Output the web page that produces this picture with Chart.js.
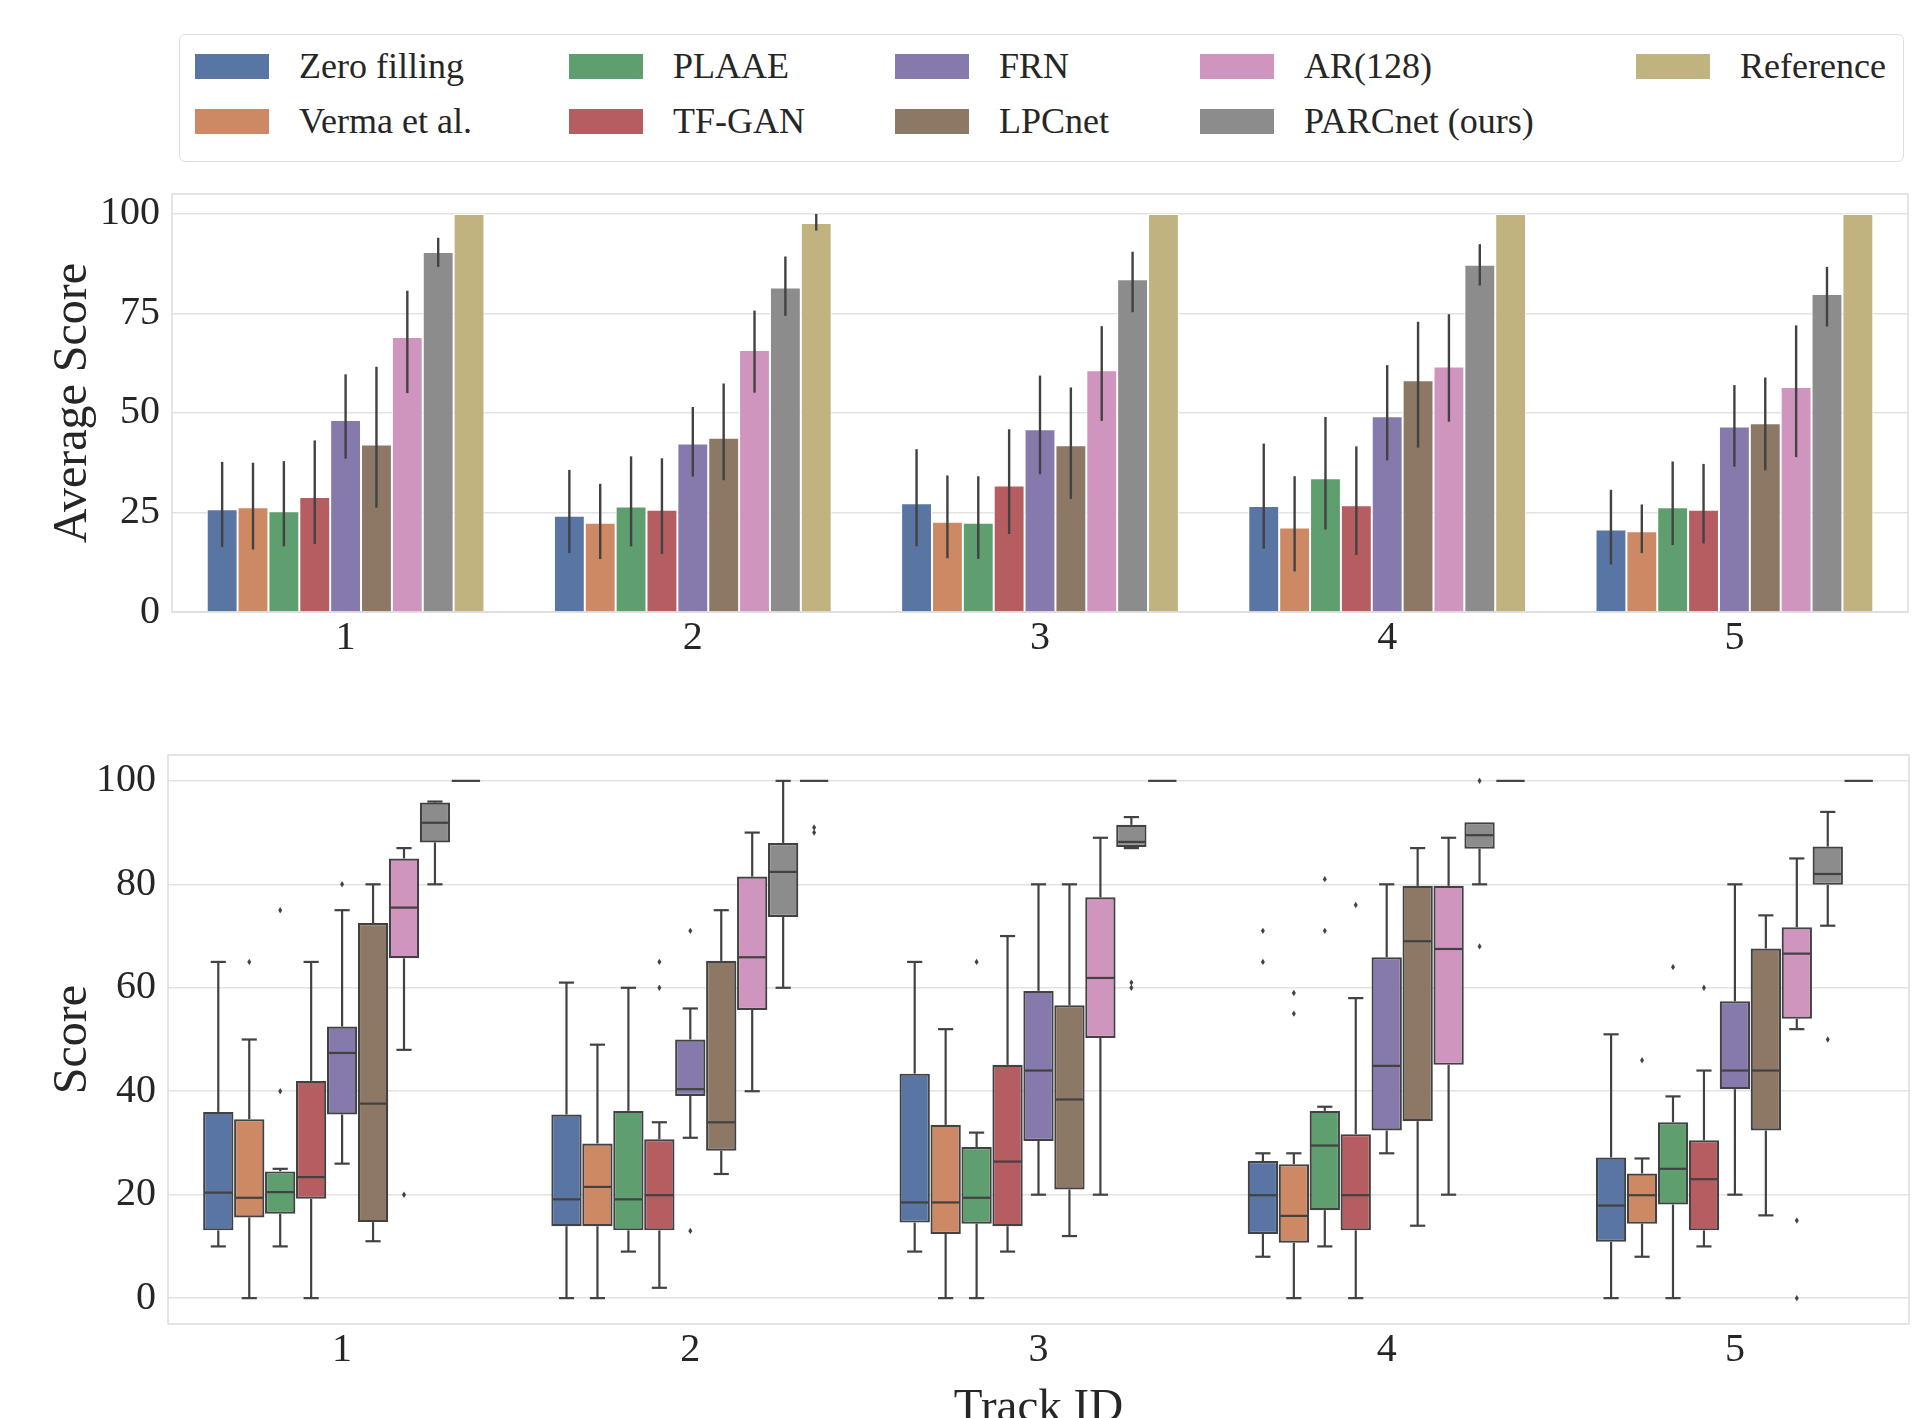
<!DOCTYPE html>
<html>
<head>
<meta charset="utf-8">
<script src="https://cdn.jsdelivr.net/npm/chart.js@4.4.1/dist/chart.umd.min.js"></script>
<style>
    body { margin: 0; background: #fff; overflow: hidden; width: 1914px; height: 1418px; position: relative; font-family: 'Liberation Serif', serif; }
    #legend { position: absolute; left: 179px; top: 34px; width: 1725px; height: 128px; border: 1px solid #dedede; border-radius: 6px; box-sizing: border-box; }
    .item { position: absolute; height: 40px; display: flex; align-items: center; font-size: 36px; color: #262626; white-space: nowrap; }
    .swatch { width: 74px; height: 25px; margin-right: 30px; }
    #top { position: absolute; left: 0; top: 158px; width: 1914px; height: 522px; }
    #bottom { position: absolute; left: 0; top: 719px; width: 1914px; height: 718px; }
</style>
</head>
<body>
<div id="legend"></div>
<div id="top"><canvas id="barChart"></canvas></div>
<div id="bottom"><canvas id="boxChart"></canvas></div>
<script>
const tracks = ['1', '2', '3', '4', '5'];
const models = ['Zero filling', 'Verma et al.', 'PLAAE', 'TF-GAN', 'FRN', 'LPCnet', 'AR(128)', 'PARCnet (ours)', 'Reference'];
const colors = ['#5875a4', '#cc8963', '#5f9e6e', '#b55d60', '#857aab', '#8d7866', '#d095bf', '#8c8c8c', '#c1b37f'];

// top panel: average score per model (rows) and track (columns), with error bar ends
const meanScore = [
    [25.8, 24.2, 27.3, 26.6, 20.7],
    [26.3, 22.4, 22.7, 21.2, 20.3],
    [25.3, 26.5, 22.4, 33.6, 26.3],
    [28.9, 25.7, 31.8, 26.8, 25.7],
    [48.2, 42.3, 45.9, 49.2, 46.6],
    [42.1, 43.8, 41.9, 58.2, 47.4],
    [69.1, 65.8, 60.7, 61.7, 56.5],
    [90.4, 81.5, 83.6, 87.2, 79.9],
    [100, 97.7, 100, 100, 100]
];
const ciLow = [
    [16.3, 14.8, 16.5, 15.9, 11.9],
    [15.7, 13.3, 13.5, 10.2, 14.8],
    [16.5, 16.5, 13.3, 20.7, 16.8],
    [17.1, 14.6, 19.6, 14.3, 17.2],
    [38.5, 34.0, 34.6, 38.1, 36.5],
    [26.2, 33.1, 28.4, 41.3, 35.6],
    [55.0, 55.1, 48.0, 47.8, 38.9],
    [86.7, 74.4, 75.3, 82.0, 71.7],
    [100, 95.8, 100, 100, 100]
];
const ciHigh = [
    [37.7, 35.7, 40.9, 42.3, 30.7],
    [37.5, 32.2, 34.3, 34.1, 27.0],
    [37.9, 39.1, 34.1, 49.0, 37.8],
    [43.1, 38.6, 45.9, 41.6, 37.2],
    [59.7, 51.5, 59.4, 62.0, 57.0],
    [61.6, 57.4, 56.4, 72.9, 58.9],
    [80.7, 75.7, 71.8, 74.8, 72.0],
    [94.0, 89.3, 90.5, 92.4, 86.7],
    [100, 100, 100, 100, 100]
];

// bottom panel: box plot statistics
const q1 = [
    [13.1, 13.9, 14.6, 12.4, 10.9],
    [15.6, 13.9, 12.4, 10.7, 14.4],
    [16.3, 13.1, 14.4, 17.0, 18.1],
    [19.2, 13.1, 13.9, 13.1, 13.1],
    [35.5, 39.1, 30.4, 32.4, 40.4],
    [14.7, 28.5, 21.0, 34.2, 32.4],
    [65.7, 55.7, 50.3, 45.1, 54.0],
    [88.1, 73.7, 87.2, 86.9, 79.9],
    [100, 100, 100, 100, 100]
];
const median = [
    [20.4, 19.1, 18.5, 19.9, 17.9],
    [19.4, 21.5, 18.5, 15.9, 19.9],
    [20.5, 19.1, 19.4, 29.5, 25.0],
    [23.4, 19.9, 26.4, 19.9, 23.0],
    [47.4, 40.4, 44.0, 44.9, 44.0],
    [37.6, 34.0, 38.4, 69.0, 44.0],
    [75.5, 65.9, 61.9, 67.5, 66.6],
    [91.9, 82.4, 88.2, 89.5, 82.0],
    [100, 100, 100, 100, 100]
];
const q3 = [
    [36.0, 35.5, 43.4, 26.5, 27.2],
    [34.6, 29.9, 33.5, 25.9, 24.1],
    [24.5, 36.2, 29.2, 36.2, 34.0],
    [42.0, 30.7, 45.1, 31.7, 30.5],
    [52.5, 50.0, 59.4, 65.9, 57.4],
    [72.5, 65.2, 56.6, 79.7, 67.6],
    [85.0, 81.5, 77.5, 79.7, 71.7],
    [95.8, 88.0, 91.5, 92.0, 87.3],
    [100, 100, 100, 100, 100]
];
const whiskerLow = [
    [10, 0, 9, 8, 0],
    [0, 0, 0, 0, 8],
    [10, 9, 0, 10, 0],
    [0, 2, 9, 0, 10],
    [26, 31, 20, 28, 20],
    [11, 24, 12, 14, 16],
    [48, 40, 20, 20, 52],
    [80, 60, 87, 80, 72],
    [100, 100, 100, 100, 100]
];
const whiskerHigh = [
    [65, 61, 65, 28, 51],
    [50, 49, 52, 28, 27],
    [25, 60, 32, 37, 39],
    [65, 34, 70, 58, 44],
    [75, 56, 80, 80, 80],
    [80, 75, 80, 87, 74],
    [87, 90, 89, 89, 85],
    [96, 100, 93, 92, 94],
    [100, 100, 100, 100, 100]
];
const outliers = [
    [[], [], [], [71, 65], []],
    [[65], [], [], [59, 55], [46]],
    [[75, 40], [], [65], [81, 71], [64]],
    [[], [65, 60], [], [76], [60]],
    [[80], [71, 13], [], [], []],
    [[], [], [], [], []],
    [[20], [], [], [], [15, 0]],
    [[], [], [61, 60], [100, 68], [50]],
    [[], [91, 90], [], [], []]
];

const textColor = '#262626';
const lineGray = '#424242';
const fontFamily = "'Liberation Serif', serif";

// legend (column-major, 2 rows)
const legendCols = [15, 389, 715, 1020, 1456];
const legendRows = [11, 66];
const legendEl = document.getElementById('legend');
models.forEach((name, i) => {
    const item = document.createElement('div');
    item.className = 'item';
    item.style.left = legendCols[Math.floor(i / 2)] + 'px';
    item.style.top = legendRows[i % 2] + 'px';
    item.innerHTML = `<span class="swatch" style="background:${colors[i]}"></span><span>${name}</span>`;
    legendEl.appendChild(item);
});

// light frame round the plot area
const frame = {
    id: 'frame',
    beforeDatasetsDraw(chart) {
        const a = chart.chartArea, ctx = chart.ctx;
        ctx.save();
        ctx.strokeStyle = '#dcdcdc';
        ctx.lineWidth = 1.5;
        ctx.strokeRect(a.left, a.top, a.right - a.left, a.bottom - a.top);
        ctx.restore();
    }
};

function drawLine(ctx, x1, y1, x2, y2) {
    ctx.beginPath();
    ctx.moveTo(x1, y1);
    ctx.lineTo(x2, y2);
    ctx.stroke();
}

const errorBars = {
    id: 'errorBars',
    afterDatasetsDraw(chart) {
        const ctx = chart.ctx, y = chart.scales.y;
        ctx.save();
        ctx.strokeStyle = lineGray;
        ctx.lineWidth = 2.4;
        models.forEach((m, i) => {
            chart.getDatasetMeta(i).data.forEach((bar, j) => {
                drawLine(ctx, bar.x, y.getPixelForValue(ciLow[i][j]), bar.x, y.getPixelForValue(ciHigh[i][j]));
            });
        });
        ctx.restore();
    }
};

const boxParts = {
    id: 'boxParts',
    afterDatasetsDraw(chart) {
        const ctx = chart.ctx, y = chart.scales.y;
        ctx.save();
        ctx.strokeStyle = lineGray;
        ctx.fillStyle = lineGray;
        ctx.lineWidth = 2.2;
        models.forEach((m, i) => {
            chart.getDatasetMeta(i).data.forEach((bar, j) => {
                const x = bar.x, half = bar.width / 2, cap = bar.width / 4;
                const yQ1 = y.getPixelForValue(q1[i][j]);
                const yQ3 = y.getPixelForValue(q3[i][j]);
                const yLo = y.getPixelForValue(whiskerLow[i][j]);
                const yHi = y.getPixelForValue(whiskerHigh[i][j]);
                if (yHi < yQ3) {
                    drawLine(ctx, x, yQ3, x, yHi);
                    drawLine(ctx, x - cap, yHi, x + cap, yHi);
                }
                if (yLo > yQ1) {
                    drawLine(ctx, x, yQ1, x, yLo);
                    drawLine(ctx, x - cap, yLo, x + cap, yLo);
                }
                const yMed = y.getPixelForValue(median[i][j]);
                drawLine(ctx, x - half + 1, yMed, x + half - 1, yMed);
                outliers[i][j].forEach(v => {
                    const py = y.getPixelForValue(v);
                    ctx.beginPath();
                    ctx.moveTo(x, py - 3.2);
                    ctx.lineTo(x + 2, py);
                    ctx.lineTo(x, py + 3.2);
                    ctx.lineTo(x - 2, py);
                    ctx.closePath();
                    ctx.fill();
                });
            });
        });
        ctx.restore();
    }
};

function tickFont() {
    return { family: fontFamily, size: 40 };
}

function makeOptions(cfg) {
    return {
        responsive: true,
        maintainAspectRatio: false,
        animation: false,
        layout: { autoPadding: false, padding: { top: cfg.padTop, right: cfg.padRight, left: 0, bottom: 0 } },
        plugins: { legend: { display: false }, tooltip: { enabled: false } },
        scales: {
            x: {
                grid: { display: false },
                border: { display: false },
                ticks: { color: textColor, font: tickFont(), padding: cfg.xTickPad, maxRotation: 0 },
                title: cfg.xTitle ? {
                    display: true, text: cfg.xTitle, color: textColor,
                    font: { family: fontFamily, size: 47 }, padding: { top: 0, bottom: 0 }
                } : { display: false },
                afterFit(scale) { scale.height = cfg.xHeight; }
            },
            y: {
                min: cfg.yMin,
                max: 105,
                grid: { color: '#e3e3e3', lineWidth: 1.5, drawTicks: false },
                border: { display: false },
                ticks: { stepSize: cfg.step, includeBounds: false, color: textColor, font: tickFont(), padding: 12 },
                title: {
                    display: true, text: cfg.yTitle, color: textColor,
                    font: { family: fontFamily, size: 48 }, padding: { top: 45, bottom: 0 }
                },
                afterFit(scale) { scale.width = cfg.yWidth; }
            }
        }
    };
}

new Chart(document.getElementById('barChart'), {
    type: 'bar',
    data: {
        labels: tracks,
        datasets: models.map((name, i) => ({
            label: name,
            data: meanScore[i],
            backgroundColor: colors[i],
            borderColor: '#ffffff',
            borderWidth: 1,
            categoryPercentage: 0.8,
            barPercentage: 1.0
        }))
    },
    options: makeOptions({
        padTop: 20, padRight: 6, xHeight: 68, yWidth: 172, yMin: 0, step: 25,
        yTitle: 'Average Score', xTickPad: -6
    }),
    plugins: [frame, errorBars]
});

new Chart(document.getElementById('boxChart'), {
    type: 'bar',
    data: {
        labels: tracks,
        datasets: models.map((name, i) => ({
            label: name,
            data: tracks.map((t, j) => [q1[i][j], q3[i][j]]),
            backgroundColor: colors[i],
            borderColor: lineGray,
            borderWidth: 2.2,
            borderSkipped: false,
            categoryPercentage: 0.8,
            barPercentage: 0.98
        }))
    },
    options: makeOptions({
        padTop: 20, padRight: 5, xHeight: 113, yWidth: 168, yMin: -5, step: 20,
        yTitle: 'Score', xTitle: 'Track ID', xTickPad: -6
    }),
    plugins: [frame, boxParts]
});
</script>
</body>
</html>
